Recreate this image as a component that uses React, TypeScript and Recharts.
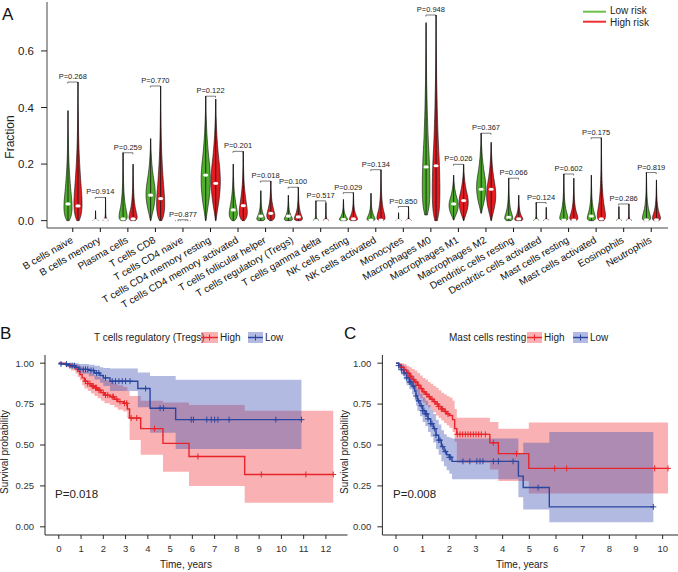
import React from 'react';
import {
  ComposedChart, Bar, Scatter, Line, Area, XAxis, YAxis,
} from 'recharts';

const FONT = "'Liberation Sans', Arial, Helvetica, sans-serif";

// ---------- Panel A data ----------
const categories = [
  'B cells naive', 'B cells memory', 'Plasma cells', 'T cells CD8', 'T cells CD4 naive',
  'T cells CD4 memory resting', 'T cells CD4 memory activated', 'T cells follicular helper',
  'T cells regulatory (Tregs)', 'T cells gamma delta', 'NK cells resting', 'NK cells activated',
  'Monocytes', 'Macrophages M0', 'Macrophages M1', 'Macrophages M2', 'Dendritic cells resting',
  'Dendritic cells activated', 'Mast cells resting', 'Mast cells activated', 'Eosinophils', 'Neutrophils',
];
const lowMin = [0, 0, 0, 0, 0, 0, 0, 0, 0, 0, 0, 0, 0, 0.02, 0.002, 0.026, 0, 0, 0, 0, 0, 0];
const lowMax = [0.389, 0.035, 0.24, 0.29, 0.003, 0.44, 0.2, 0.106, 0.09, 0.07, 0.075, 0.097, 0.028, 0.7, 0.161, 0.309, 0.15, 0.064, 0.165, 0.161, 0.05, 0.17];
const lowMedian = [0.059, 0, 0.006, 0.09, 0, 0.161, 0.038, 0.016, 0.016, 0, 0.005, 0.002, 0, 0.19, 0.059, 0.111, 0.012, 0, 0.002, 0.016, 0, 0.003];
const lowShape = ['SKEW', 'ZERO', 'LOW', 'MID', 'ZERO', 'MID', 'SKEW', 'LOW', 'LOW', 'ZERO', 'LOW', 'LOW', 'ZERO', 'BROAD', 'MID', 'MID', 'LOW', 'ZERO', 'LOW', 'LOW', 'ZERO', 'LOW'];
const highMin = [0, 0, 0, 0, 0, 0, 0, 0, 0, 0, 0, 0, 0, 0, 0, 0, 0, 0, 0, 0, 0, 0];
const highMax = [0.49, 0.082, 0.2, 0.476, 0.003, 0.43, 0.245, 0.14, 0.118, 0.064, 0.099, 0.18, 0.05, 0.727, 0.199, 0.277, 0.09, 0.047, 0.15, 0.293, 0.059, 0.144];
const highMedian = [0.052, 0.003, 0.006, 0.078, 0, 0.132, 0.053, 0.026, 0.013, 0, 0.006, 0.002, 0, 0.194, 0.071, 0.111, 0.006, 0, 0.002, 0.006, 0, 0.003];
const highShape = ['SKEW', 'ZERO', 'LOW', 'SKEW', 'ZERO', 'MID', 'SKEW', 'SKEW', 'LOW', 'ZERO', 'LOW', 'LOW', 'ZERO', 'BROAD', 'MID', 'MID', 'LOW', 'ZERO', 'LOW', 'LOW', 'ZERO', 'LOW'];
const pValues = [0.268, 0.914, 0.259, 0.77, 0.877, 0.122, 0.201, 0.018, 0.1, 0.517, 0.029, 0.134, 0.85, 0.948, 0.026, 0.367, 0.066, 0.124, 0.602, 0.175, 0.286, 0.819];
const yTicksA = [0, 0.2, 0.4, 0.6];

// ---------- Panel B data (T cells regulatory) ----------
const bHighTime = [0, 0.3, 0.55, 0.75, 0.85, 0.95, 1.05, 1.15, 1.3, 1.45, 1.6, 1.75, 1.9, 2.05, 2.3, 2.5, 2.65, 2.9, 3.08, 3.18, 3.68, 4.68, 5.85, 8.35, 12.33];
const bHighSurv = [1, 0.99, 0.98, 0.965, 0.95, 0.93, 0.91, 0.89, 0.875, 0.86, 0.85, 0.835, 0.82, 0.805, 0.795, 0.78, 0.765, 0.755, 0.72, 0.665, 0.6, 0.51, 0.43, 0.32, 0.32];
const bHighLower = [1, 0.975, 0.955, 0.935, 0.915, 0.895, 0.865, 0.845, 0.83, 0.815, 0.8, 0.785, 0.77, 0.755, 0.745, 0.73, 0.715, 0.705, 0.665, 0.53, 0.44, 0.337, 0.25, 0.147, 0.147];
const bHighUpper = [1, 1, 1, 0.995, 0.99, 0.98, 0.97, 0.955, 0.945, 0.935, 0.925, 0.915, 0.905, 0.895, 0.885, 0.875, 0.865, 0.855, 0.83, 0.8, 0.77, 0.76, 0.745, 0.71, 0.71];
const bHighCensor = [1.2, 1.3, 1.4, 1.5, 1.55, 1.65, 1.7, 1.8, 1.85, 2.0, 2.1, 2.2, 2.4, 2.45, 2.6, 2.75, 2.95, 3.05, 3.25, 3.5, 4.3, 6.25, 9.1, 11.1, 12.33];
const bLowTime = [0, 0.1, 0.45, 0.75, 0.9, 1.35, 1.6, 1.85, 2.0, 2.3, 3.55, 4.1, 5.25, 10.9];
const bLowSurv = [1, 0.995, 0.985, 0.975, 0.962, 0.955, 0.94, 0.925, 0.91, 0.89, 0.845, 0.725, 0.655, 0.655];
const bLowLower = [1, 0.99, 0.97, 0.955, 0.935, 0.92, 0.9, 0.88, 0.86, 0.83, 0.73, 0.575, 0.475, 0.475];
const bLowUpper = [1, 1, 1, 1, 0.995, 0.99, 0.985, 0.975, 0.97, 0.967, 0.943, 0.922, 0.898, 0.898];
const bLowCensor = [0.1, 0.35, 0.5, 0.6, 0.7, 0.95, 1.1, 1.2, 1.3, 1.45, 1.55, 1.7, 1.8, 2.1, 2.4, 2.55, 2.7, 2.85, 3.0, 3.2, 3.9, 4.55, 4.7, 5.95, 6.05, 6.65, 6.85, 7.0, 7.15, 7.65, 9.75, 10.9];
const bTicks = [0, 1, 2, 3, 4, 5, 6, 7, 8, 9, 10, 11, 12];

// ---------- Panel C data (Mast cells resting) ----------
const cHighTime = [0, 0.1, 0.2, 0.3, 0.4, 0.5, 0.6, 0.7, 0.8, 0.9, 1.0, 1.1, 1.2, 1.3, 1.4, 1.5, 1.6, 1.7, 1.8, 1.9, 2.0, 2.12, 2.2, 2.28, 3.52, 3.84, 4.98, 10.2];
const cHighSurv = [1, 0.99, 0.975, 0.96, 0.94, 0.92, 0.9, 0.885, 0.865, 0.845, 0.825, 0.81, 0.795, 0.78, 0.765, 0.75, 0.735, 0.72, 0.705, 0.69, 0.68, 0.655, 0.6, 0.565, 0.514, 0.447, 0.357, 0.357];
const cHighLower = [1, 0.97, 0.95, 0.925, 0.9, 0.875, 0.85, 0.83, 0.805, 0.785, 0.76, 0.745, 0.73, 0.715, 0.7, 0.68, 0.665, 0.65, 0.635, 0.62, 0.605, 0.58, 0.52, 0.39, 0.35, 0.28, 0.204, 0.204];
const cHighUpper = [1, 1, 1, 0.995, 0.985, 0.975, 0.965, 0.955, 0.94, 0.925, 0.91, 0.9, 0.885, 0.875, 0.86, 0.85, 0.835, 0.82, 0.81, 0.8, 0.79, 0.77, 0.72, 0.667, 0.64, 0.6, 0.637, 0.637];
const cHighCensor = [0.2, 0.3, 0.45, 0.55, 0.65, 0.75, 0.85, 0.95, 1.05, 1.15, 1.25, 1.35, 1.45, 1.55, 1.6, 1.7, 1.75, 1.85, 1.95, 2.3, 2.4, 2.5, 2.6, 2.7, 2.8, 2.9, 3.0, 3.1, 3.2, 3.35, 3.65, 4.52, 5.95, 6.4, 9.7, 10.2];
const cLowTime = [0, 0.1, 0.2, 0.3, 0.4, 0.5, 0.6, 0.7, 0.75, 0.8, 0.9, 1.0, 1.1, 1.2, 1.3, 1.4, 1.5, 1.6, 1.7, 1.8, 1.9, 2.0, 2.1, 4.59, 4.77, 5.75, 9.65];
const cLowSurv = [1, 0.985, 0.96, 0.94, 0.91, 0.885, 0.86, 0.83, 0.8, 0.77, 0.74, 0.71, 0.69, 0.66, 0.63, 0.6, 0.56, 0.53, 0.49, 0.46, 0.44, 0.425, 0.4, 0.31, 0.24, 0.122, 0.122];
const cLowLower = [1, 0.96, 0.93, 0.9, 0.865, 0.84, 0.81, 0.775, 0.74, 0.71, 0.675, 0.64, 0.615, 0.58, 0.55, 0.515, 0.475, 0.44, 0.4, 0.37, 0.345, 0.325, 0.29, 0.18, 0.106, 0.028, 0.028];
const cLowUpper = [1, 1, 0.99, 0.98, 0.96, 0.94, 0.92, 0.895, 0.87, 0.845, 0.815, 0.79, 0.77, 0.745, 0.715, 0.69, 0.655, 0.625, 0.59, 0.565, 0.55, 0.545, 0.539, 0.45, 0.514, 0.579, 0.579];
const cLowCensor = [0.1, 0.2, 0.3, 0.4, 0.5, 0.55, 0.65, 0.75, 0.85, 0.95, 1.0, 1.05, 1.1, 1.15, 1.2, 1.3, 1.35, 1.45, 1.5, 1.6, 1.65, 1.75, 1.85, 2.0, 2.05, 2.51, 2.77, 3.03, 3.15, 3.26, 3.65, 3.84, 4.39, 5.33, 9.65];
const cTicks = [0, 1, 2, 3, 4, 5, 6, 7, 8, 9, 10];
const kmYTicks = [0, 0.25, 0.5, 0.75, 1];

// ---------- styles ----------
const GREEN = '#4fae2b';
const RED = '#e41b20';
const KM_RED = '#e8242a';
const KM_BLUE = '#2a46a0';
const BAND_RED = '#ef3d40';
const BAND_BLUE = '#3f52b4';

// violin outline profiles: [relative position min->max, relative half width]
const PROFILES: Record<string, number[][]> = {
  ZERO: [[0, 0.5], [0.015, 0.9], [0.04, 0.8], [0.08, 0.45], [0.15, 0.2], [0.3, 0.08], [0.6, 0.03], [1, 0]],
  LOW: [[0, 0.55], [0.03, 0.95], [0.08, 1], [0.15, 0.8], [0.25, 0.5], [0.4, 0.25], [0.6, 0.1], [0.8, 0.04], [1, 0]],
  SKEW: [[0, 0.3], [0.04, 0.75], [0.1, 1], [0.18, 0.95], [0.3, 0.65], [0.45, 0.35], [0.6, 0.17], [0.8, 0.06], [1, 0]],
  MID: [[0, 0.05], [0.08, 0.35], [0.18, 0.75], [0.3, 1], [0.42, 0.9], [0.55, 0.55], [0.7, 0.25], [0.85, 0.08], [1, 0]],
  BROAD: [[0, 0.35], [0.06, 0.85], [0.15, 1], [0.28, 0.85], [0.4, 0.55], [0.55, 0.3], [0.7, 0.14], [0.85, 0.05], [1, 0]],
};
const HALF_WIDTH: Record<string, number> = { ZERO: 3, LOW: 4, SKEW: 4, MID: 4.6, BROAD: 3.8 };

const violinData = categories.map((name, i) => ({
  name,
  lowRange: [lowMin[i], lowMax[i]],
  highRange: [highMin[i], highMax[i]],
  low: { min: lowMin[i], max: lowMax[i], med: lowMedian[i], shape: lowShape[i] },
  high: { min: highMin[i], max: highMax[i], med: highMedian[i], shape: highShape[i] },
  bracket: Math.max(lowMax[i], highMax[i]),
  p: pValues[i],
}));

function smoothPath(pts: number[][]) {
  let d = `M${pts[0][0].toFixed(2)},${pts[0][1].toFixed(2)}`;
  for (let i = 0; i < pts.length - 1; i++) {
    const p0 = pts[i - 1] || pts[i];
    const p1 = pts[i];
    const p2 = pts[i + 1];
    const p3 = pts[i + 2] || p2;
    const c1x = p1[0] + (p2[0] - p0[0]) / 6;
    const c1y = p1[1] + (p2[1] - p0[1]) / 6;
    const c2x = p2[0] - (p3[0] - p1[0]) / 6;
    const c2y = p2[1] - (p3[1] - p1[1]) / 6;
    d += ` C${c1x.toFixed(2)},${c1y.toFixed(2)} ${c2x.toFixed(2)},${c2y.toFixed(2)} ${p2[0].toFixed(2)},${p2[1].toFixed(2)}`;
  }
  return d + ' Z';
}

function makeViolin(side: 'low' | 'high', color: string) {
  return (props: any) => {
    const { x, y, width, height, payload } = props;
    if (x == null || y == null || !payload) return <g />;
    const v = payload[side];
    const top = Math.min(y, y + height);
    const h = Math.abs(height);
    const bottom = top + h;
    const cx = x + width / 2;
    const span = v.max - v.min;
    const toY = (val: number) => (span > 0 ? bottom - ((val - v.min) / span) * h : bottom);
    const prof = PROFILES[v.shape];
    const hw = HALF_WIDTH[v.shape];
    const left = prof.map(([t, w]) => [cx - w * hw, bottom - t * h]);
    const right = prof.slice().reverse().slice(1).map(([t, w]) => [cx + w * hw, bottom - t * h]);
    const d = smoothPath([...left, ...right]);
    const my = toY(v.med);
    return (
      <g>
        <path d={d} fill={color} stroke="#111" strokeWidth={0.6} />
        <line x1={cx} x2={cx} y1={top} y2={bottom} stroke="#111" strokeWidth={0.8} />
        <ellipse cx={cx} cy={my} rx={2.6} ry={1.6} fill="#fff" />
      </g>
    );
  };
}
const GreenViolin = makeViolin('low', GREEN);
const RedViolin = makeViolin('high', RED);

const PLabel = (props: any) => {
  const { cx, cy, payload } = props;
  if (cx == null || cy == null) return <g />;
  return (
    <g>
      <path d={`M${cx - 5},${cy + 1.5} L${cx - 5},${cy} L${cx + 5},${cy} L${cx + 5},${cy + 1.5}`} fill="none" stroke="#222" strokeWidth={0.6} />
      <text x={cx} y={cy - 3} textAnchor="middle" fontSize={7.5} fontFamily={FONT} fill="#222">
        {`P=${payload.p.toFixed(3)}`}
      </text>
    </g>
  );
};

const CellTick = (props: any) => {
  const { x, y, payload } = props;
  const ax = x + 1;
  const ay = y + 8;
  return (
    <text x={ax} y={ay} transform={`rotate(-30, ${ax}, ${ay})`} textAnchor="end" fontSize={10} fontFamily={FONT} fill="#111">
      {payload.value}
    </text>
  );
};

// ---------- KM helpers ----------
const curveData = (times: number[], surv: number[]) => times.map((t, i) => ({ t, s: surv[i] }));
const bandData = (times: number[], lo: number[], hi: number[]) => times.map((t, i) => ({ t, band: [lo[i], hi[i]] }));
const censorData = (times: number[], surv: number[], marks: number[]) =>
  marks.map((t) => {
    let idx = 0;
    for (let i = 0; i < times.length; i++) if (times[i] <= t) idx = i;
    return { t, s: surv[idx] };
  });

const makeCross = (color: string) => (props: any) => {
  const { cx, cy } = props;
  if (cx == null || cy == null) return <g />;
  return (
    <g stroke={color} strokeWidth={1}>
      <line x1={cx - 3} x2={cx + 3} y1={cy} y2={cy} />
      <line x1={cx} x2={cx} y1={cy - 3} y2={cy + 3} />
    </g>
  );
};
const RedCross = makeCross(KM_RED);
const BlueCross = makeCross(KM_BLUE);

const kmTickStyle = { fontSize: 9.5, fontFamily: FONT, fill: '#333' };

function KMChart(props: {
  width: number; xDomain: number[]; xTicks: number[];
  hiT: number[]; hiS: number[]; hiL: number[]; hiU: number[]; hiC: number[];
  loT: number[]; loS: number[]; loL: number[]; loU: number[]; loC: number[];
  yAxisWidth: number; right: number;
}) {
  const p = props;
  return (
    <ComposedChart width={p.width} height={232} margin={{ top: 15, right: p.right, left: 0, bottom: 0 }}>
      <XAxis type="number" dataKey="t" domain={p.xDomain} ticks={p.xTicks} allowDataOverflow interval={0}
        height={37} tickSize={4} tickMargin={6} tick={kmTickStyle}
        axisLine={{ stroke: '#111', strokeWidth: 0.9 }} tickLine={{ stroke: '#111', strokeWidth: 0.9 }} />
      <YAxis type="number" domain={[-0.05, 1.05]} ticks={kmYTicks} allowDataOverflow interval={0}
        width={p.yAxisWidth} tickSize={5} tickMargin={6} tick={kmTickStyle} tickFormatter={(v: number) => v.toFixed(2)}
        axisLine={{ stroke: '#111', strokeWidth: 0.9 }} tickLine={{ stroke: '#111', strokeWidth: 0.9 }} />
      <Area data={bandData(p.hiT, p.hiL, p.hiU)} dataKey="band" type="stepAfter" fill={BAND_RED} fillOpacity={0.4}
        stroke="none" isAnimationActive={false} dot={false} activeDot={false} />
      <Area data={bandData(p.loT, p.loL, p.loU)} dataKey="band" type="stepAfter" fill={BAND_BLUE} fillOpacity={0.4}
        stroke="none" isAnimationActive={false} dot={false} activeDot={false} />
      <Line data={curveData(p.hiT, p.hiS)} dataKey="s" type="stepAfter" stroke={KM_RED} strokeWidth={1.4}
        dot={false} activeDot={false} isAnimationActive={false} />
      <Line data={curveData(p.loT, p.loS)} dataKey="s" type="stepAfter" stroke={KM_BLUE} strokeWidth={1.4}
        dot={false} activeDot={false} isAnimationActive={false} />
      <Scatter data={censorData(p.hiT, p.hiS, p.hiC)} dataKey="s" shape={RedCross} isAnimationActive={false} />
      <Scatter data={censorData(p.loT, p.loS, p.loC)} dataKey="s" shape={BlueCross} isAnimationActive={false} />
    </ComposedChart>
  );
}

const LegendKey = ({ x, w, band, line }: { x: number; w: number; band: string; line: string }) => (
  <g>
    <rect x={x} y={332} width={w} height={11} fill={band} fillOpacity={0.4} />
    <line x1={x} x2={x + w} y1={337.5} y2={337.5} stroke={line} strokeWidth={1.4} />
    <line x1={x + w / 2} x2={x + w / 2} y1={334.5} y2={340.5} stroke={line} strokeWidth={1} />
  </g>
);

export default function App() {
  return (
    <div style={{ position: 'absolute', left: 0, top: 0, width: 678, height: 572, overflow: 'hidden', background: '#fff', fontFamily: FONT }}>
      <div style={{ position: 'absolute', left: 0, top: 0 }}>
        <ComposedChart width={678} height={330} data={violinData} margin={{ top: 2, right: 10, left: 0, bottom: 0 }} barGap={0}>
          <XAxis dataKey="name" type="category" interval={0} height={102} tick={<CellTick />} tickSize={4} tickMargin={2}
            padding={{ left: 12, right: 3 }} axisLine={{ stroke: '#444' }} tickLine={{ stroke: '#111' }} />
          <XAxis xAxisId="top" dataKey="name" type="category" orientation="top" height={0} tick={false} tickLine={false}
            axisLine={{ stroke: '#555' }} />
          <YAxis type="number" domain={[-0.026, 0.773]} ticks={yTicksA} interval={0} width={47} allowDataOverflow
            tickSize={6} tickMargin={7} tickFormatter={(v: number) => v.toFixed(1)}
            tick={{ fontSize: 11.5, fontFamily: FONT, fill: '#222' }} axisLine={{ stroke: '#444' }} tickLine={{ stroke: '#222' }} />
          <YAxis yAxisId="right" orientation="right" type="number" domain={[-0.026, 0.773]} width={0} tick={false}
            tickLine={false} axisLine={{ stroke: '#555' }} />
          <Bar dataKey="lowRange" barSize={10} shape={GreenViolin} isAnimationActive={false} />
          <Bar dataKey="highRange" barSize={10} shape={RedViolin} isAnimationActive={false} />
          <Scatter dataKey="bracket" shape={PLabel} isAnimationActive={false} />
        </ComposedChart>
      </div>

      <div style={{ position: 'absolute', left: 0, top: 340 }}>
        <KMChart width={350} right={2.5} yAxisWidth={45} xDomain={[-0.62, 12.97]} xTicks={bTicks}
          hiT={bHighTime} hiS={bHighSurv} hiL={bHighLower} hiU={bHighUpper} hiC={bHighCensor}
          loT={bLowTime} loS={bLowSurv} loL={bLowLower} loU={bLowUpper} loC={bLowCensor} />
      </div>
      <div style={{ position: 'absolute', left: 338, top: 340 }}>
        <KMChart width={346} right={2.4} yAxisWidth={44.4} xDomain={[-0.51, 10.71]} xTicks={cTicks}
          hiT={cHighTime} hiS={cHighSurv} hiL={cHighLower} hiU={cHighUpper} hiC={cHighCensor}
          loT={cLowTime} loS={cLowSurv} loL={cLowLower} loU={cLowUpper} loC={cLowCensor} />
      </div>

      <svg width={678} height={572} style={{ position: 'absolute', left: 0, top: 0, pointerEvents: 'none' }}>
        <g fontFamily={FONT}>
          <text x={2} y={20} fontSize={17} fill="#111">A</text>
          <text x={0} y={339} fontSize={17} fill="#111">B</text>
          <text x={344} y={339} fontSize={17} fill="#111">C</text>

          <text x={14} y={137} fontSize={12} fill="#222" textAnchor="middle" transform="rotate(-90, 14, 137)">Fraction</text>

          <line x1={583} x2={606} y1={11.7} y2={11.7} stroke="#6cc04a" strokeWidth={2} />
          <text x={610} y={14} fontSize={10} fill="#222">Low risk</text>
          <line x1={583} x2={606} y1={21.7} y2={21.7} stroke="#f03030" strokeWidth={2} />
          <text x={610} y={25.8} fontSize={10} fill="#222">High risk</text>

          <text x={94} y={341} fontSize={10} fill="#222">T cells regulatory (Tregs)</text>
          <LegendKey x={201} w={17} band={BAND_RED} line={KM_RED} />
          <text x={220} y={341} fontSize={10} fill="#222">High</text>
          <LegendKey x={248} w={15} band={BAND_BLUE} line={KM_BLUE} />
          <text x={265} y={341} fontSize={10} fill="#222">Low</text>

          <text x={449} y={341} fontSize={10} fill="#222">Mast cells resting</text>
          <LegendKey x={527} w={15} band={BAND_RED} line={KM_RED} />
          <text x={544} y={341} fontSize={10} fill="#222">High</text>
          <LegendKey x={573} w={15} band={BAND_BLUE} line={KM_BLUE} />
          <text x={590} y={341} fontSize={10} fill="#222">Low</text>

          <text x={8} y={452} fontSize={10} fill="#222" textAnchor="middle" transform="rotate(-90, 8, 452)">Survival probability</text>
          <text x={348} y={452} fontSize={10} fill="#222" textAnchor="middle" transform="rotate(-90, 348, 452)">Survival probability</text>
          <text x={186} y={568} fontSize={10} fill="#222" textAnchor="middle">Time, years</text>
          <text x={522} y={568} fontSize={10} fill="#222" textAnchor="middle">Time, years</text>

          <text x={55} y={498} fontSize={11.5} fill="#222">P=0.018</text>
          <text x={393} y={498} fontSize={11.5} fill="#222">P=0.008</text>
        </g>
      </svg>
    </div>
  );
}
